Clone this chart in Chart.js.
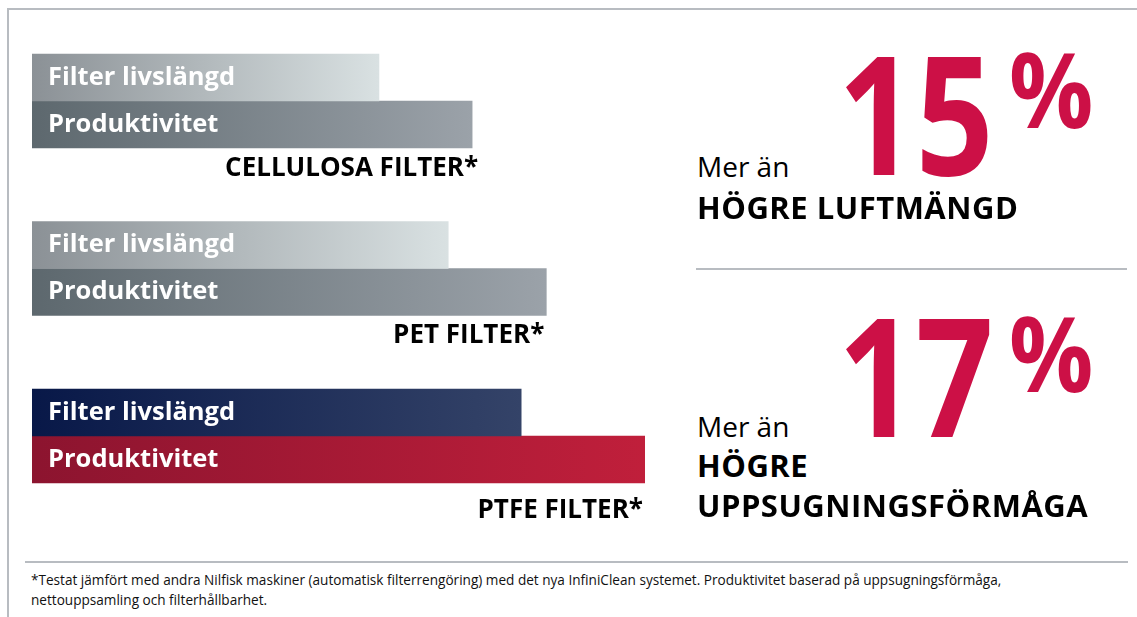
<!DOCTYPE html>
<html>
<head>
<meta charset="utf-8">
<script src="https://cdn.jsdelivr.net/npm/chart.js@4.4.1/dist/chart.umd.min.js"></script>
<style>
  html, body { margin: 0; padding: 0; background: #ffffff; }
  #stage { position: relative; width: 1137px; height: 617px; overflow: hidden; background: #fff; font-family: "Open Sans", "Noto Sans", sans-serif; }
  #chartCanvas { position: absolute; left: 0; top: 0; }
  .t { position: absolute; white-space: nowrap; line-height: 1; transform-origin: 0 0; }
  .rule { position: absolute; background: #b8bcc1; }
</style>
</head>
<body>
<div id="stage">
  <canvas id="chartCanvas" width="680" height="560"></canvas>
  <div class="rule" style="left:8px; top:8px; width:1129px; height:2px;"></div>
  <div class="rule" style="left:7px; top:8px; width:2px; height:609px;"></div>
  <div class="rule" style="left:696px; top:268px; width:431px; height:2px;"></div>
  <div class="rule" style="left:25px; top:561px; width:1103px; height:2px;"></div>
</div>
<script>
// ---------------- DATA ----------------
const categories = ["CELLULOSA FILTER*", "PET FILTER*", "PTFE FILTER*"];
const seriesNames = ["Filter livslängd", "Produktivitet"];
const filterLife = [56.6, 67.9, 79.8];      // relative length, PTFE productivity = 100
const productivity = [71.8, 83.9, 100];
const highlights = ["15", "17"];
const highlightUnit = "%";
const highlightLead = ["Mer än", "Mer än"];
const highlightText = [["HÖGRE LUFTMÄNGD"], ["HÖGRE", "UPPSUGNINGSFÖRMÅGA"]];
const footnote = [
  "*Testat jämfört med andra Nilfisk maskiner (automatisk filterrengöring) med det nya InfiniClean systemet. Produktivitet baserad på uppsugningsförmåga,",
  "nettouppsamling och filterhållbarhet."
];

// ---------------- STYLE ----------------
const gradLife = [["#8b9196", "#d9e1e2"], ["#8b9196", "#d9e1e2"], ["#081848", "#344368"]];
const gradProd = [["#5d686e", "#9ba2a9"], ["#5d686e", "#9ba2a9"], ["#8c142f", "#c01f3b"]];
const catLabelDy = [28, 27, 35];   // baseline offset below bar bottom
const catLabelDx = [6, -2, -2];

function barGradient(pair) {
  return function (ctx) {
    const chart = ctx.chart;
    const xs = chart.scales.x;
    if (!xs || !chart.chartArea || ctx.dataIndex === undefined) return pair[0];
    const v = ctx.dataset.data[ctx.dataIndex];
    const x0 = xs.getPixelForValue(0), x1 = xs.getPixelForValue(v);
    const g = chart.ctx.createLinearGradient(x0, 0, x1, 0);
    g.addColorStop(0, pair[0]);
    g.addColorStop(1, pair[1]);
    return g;
  };
}

const labelPlugin = {
  id: 'barLabels',
  afterDatasetsDraw(chart) {
    const c = chart.ctx;
    c.save();
    chart.data.datasets.forEach((ds, di) => {
      const meta = chart.getDatasetMeta(di);
      meta.data.forEach((bar) => {
        c.fillStyle = '#ffffff';
        c.font = 'bold 25.5px "Open Sans"';
        c.textAlign = 'left';
        c.textBaseline = 'alphabetic';
        c.fillText(ds.label, bar.base + 16, bar.y + 7);
      });
    });
    const prodMeta = chart.getDatasetMeta(1);
    prodMeta.data.forEach((bar, i) => {
      c.fillStyle = '#000000';
      c.font = 'bold 26px "Open Sans"';
      c.textAlign = 'right';
      c.fillText(chart.data.labels[i], bar.x + catLabelDx[i], bar.y + bar.height / 2 + catLabelDy[i]);
    });
    c.restore();
  }
};

new Chart(document.getElementById('chartCanvas'), {
  type: 'bar',
  data: {
    labels: categories,
    datasets: [
      { label: seriesNames[0], data: filterLife, backgroundColor: (ctx) => barGradient(gradLife[ctx.dataIndex] || gradLife[0])(ctx), borderWidth: 0, barThickness: 47 },
      { label: seriesNames[1], data: productivity, backgroundColor: (ctx) => barGradient(gradProd[ctx.dataIndex] || gradProd[0])(ctx), borderWidth: 0, barThickness: 47 }
    ]
  },
  options: {
    indexAxis: 'y',
    responsive: false,
    animation: false,
    layout: { padding: { left: 32, right: 35, top: 17.25, bottom: 40.25 } },
    scales: {
      x: { display: false, min: 0, max: 100 },
      y: { display: false, grid: { display: false } }
    },
    plugins: { legend: { display: false }, tooltip: { enabled: false } }
  },
  plugins: [labelPlugin]
});

// ---------------- RIGHT PANEL & FOOTNOTE (HTML text) ----------------
const stage = document.getElementById('stage');
function addText(str, o) {
  const d = document.createElement('div');
  d.className = 't';
  d.textContent = str;
  d.style.fontSize = o.size + 'px';
  d.style.fontWeight = o.weight || 400;
  d.style.color = o.color || '#000';
  d.style.left = o.x + 'px';
  d.style.top = (o.baseline - 0.888 * o.size) + 'px';
  if (o.sx) d.style.transform = 'scaleX(' + o.sx + ')';
  if (o.ls) d.style.letterSpacing = o.ls + 'px';
  stage.appendChild(d);
}
const red = '#cc1046';
const panelBase = [175, 437];
const leadDy = [2, 0];
const lineDy = [45, 41];
highlights.forEach((h, i) => {
  const b = panelBase[i];
  addText(h, { size: 166, weight: 700, color: red, x: 838, baseline: b, sx: 0.82 });
  addText(highlightUnit, { size: 104, weight: 700, color: red, x: 1009, baseline: b - (i === 0 ? 47 : 45), sx: 0.9 });
  addText(highlightLead[i], { size: 28, weight: 400, x: 697, baseline: b + leadDy[i] });
  highlightText[i].forEach((line, j) => {
    addText(line, { size: 31, weight: 700, x: 697, baseline: b + lineDy[i] + j * 40, ls: 0.5 });
  });
});
footnote.forEach((line, j) => {
  addText(line, { size: 13.6, weight: 400, color: '#111', x: 31, baseline: 585 + j * 20 });
});
</script>
</body>
</html>
